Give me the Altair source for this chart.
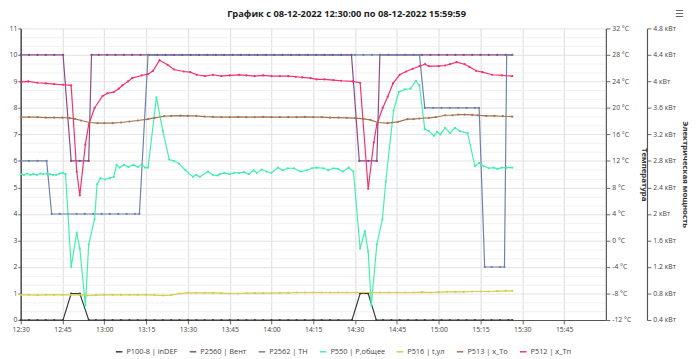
import altair as alt
import pandas as pd

TITLE = ["График с 08-12-2022 12:30:00 по 08-12-2022 15:59:59"]
SERIES = ["P100-8 | inDEF", "P2560 | Вент", "P2562 | TH", "P550 | P,общее",
          "P516 | t,ул", "P513 | x_To", "P512 | x_Tп"]
COLORS = ["#3a3a3a", "#8a4a8a", "#6f80aa", "#3ff0ae", "#d4cd45", "#a27452", "#f7306a"]

# (minutes after 12:30, value)
# state series (left axis)
INDEF = [(0, 0), (3, 0), (6, 0), (9, 0), (12, 0), (15.2, 0), (18.1, 1), (21.2, 1), (24.4, 0),
         (27, 0), (30, 0), (33, 0), (36, 0), (39, 0), (42, 0), (45, 0), (48, 0), (51, 0), (54, 0),
         (57, 0), (60, 0), (63, 0), (66, 0), (69, 0), (72, 0), (75, 0), (78, 0), (81, 0), (84, 0),
         (87, 0), (90, 0), (93, 0), (96, 0), (99, 0), (102, 0), (105, 0), (108, 0), (111, 0),
         (114, 0), (118.9, 0), (121.8, 1), (124.7, 1), (127.6, 0), (130, 0), (133, 0), (136, 0),
         (139, 0), (142, 0), (145, 0), (148, 0), (151, 0), (154, 0), (157, 0), (160, 0), (163, 0),
         (166, 0), (169, 0), (172, 0), (175, 0), (176.4, 0)]
VENT = [(0, 10), (3, 10), (6, 10), (9, 10), (12, 10), (15.2, 10), (18.1, 6), (21.2, 6), (24.4, 6),
        (25.4, 10), (28, 10), (31, 10), (34, 10), (37, 10), (40, 10), (43, 10), (46, 10), (49, 10),
        (52, 10), (55, 10), (58, 10), (61, 10), (64, 10), (67, 10), (70, 10), (73, 10), (76, 10),
        (79, 10), (82, 10), (85, 10), (88, 10), (91, 10), (94, 10), (97, 10), (100, 10), (103, 10),
        (106, 10), (109, 10), (112, 10), (115, 10), (118.7, 10), (121.5, 6), (124.7, 6), (127.8, 6),
        (128.9, 10), (132, 10), (135, 10), (138, 10), (141, 10), (144, 10), (147, 10), (150, 10),
        (153, 10), (156, 10), (159, 10), (162, 10), (165, 10), (168, 10), (171, 10), (174, 10),
        (176.4, 10)]
TH = [(0, 6), (3, 6), (6, 6), (9.3, 6), (11.1, 4), (14, 4), (17, 4), (20, 4), (23, 4), (26, 4),
      (29, 4), (32, 4), (35, 4), (38, 4), (41, 4), (42.6, 4), (45.7, 10), (48, 10), (51, 10),
      (54, 10), (57, 10), (60, 10), (63, 10), (66, 10), (69, 10), (72, 10), (75, 10), (78, 10),
      (81, 10), (84, 10), (87, 10), (90, 10), (93, 10), (96, 10), (99, 10), (102, 10), (105, 10),
      (108, 10), (111, 10), (114, 10), (117, 10), (120, 10), (123, 10), (126, 10), (129, 10),
      (132, 10), (135, 10), (138, 10), (141, 10), (143.1, 10), (145, 8), (148, 8), (151, 8),
      (154, 8), (157, 8), (160, 8), (163, 8), (164.5, 8), (166.5, 2), (169, 2), (172, 2),
      (173.6, 2), (174.4, 10), (176.4, 10)]

# power series, kW
POWER = [(0, 2.60), (1.2, 2.59), (2.3, 2.61), (3.5, 2.59), (4.6, 2.60), (5.8, 2.59), (7, 2.61),
         (8.1, 2.60), (9.3, 2.61), (10.4, 2.60), (11.6, 2.59), (12.7, 2.59), (13.9, 2.61),
         (15.2, 2.62), (16.1, 2.60), (18.1, 1.20), (20.1, 1.72), (21.2, 1.48), (23.2, 0.62),
         (24.4, 1.54), (26.5, 1.92), (27.4, 2.45), (28.6, 2.54), (30.3, 2.52), (32, 2.54),
         (33.4, 2.56), (34.4, 2.74), (35.5, 2.70), (37, 2.74), (38.7, 2.71), (40.4, 2.74),
         (42.1, 2.71), (43.4, 2.75), (44.6, 2.70), (45.7, 2.70), (48.7, 3.76), (51, 3.25),
         (53.3, 2.82), (55, 2.80), (56.8, 2.76), (59.1, 2.66), (61.8, 2.56), (62.9, 2.59),
         (64.3, 2.56), (67.2, 2.64), (69, 2.59), (70.7, 2.58), (71.4, 2.60), (73.1, 2.62),
         (74.9, 2.60), (76.6, 2.62), (78.4, 2.62), (80.1, 2.63), (81.9, 2.60), (83.6, 2.66),
         (84.7, 2.62), (86.5, 2.67), (88.2, 2.64), (90, 2.62), (92.3, 2.70), (94, 2.66),
         (95.8, 2.69), (98.1, 2.69), (100.4, 2.64), (102.7, 2.66), (104.5, 2.69), (106.2, 2.70),
         (108.7, 2.69), (110.4, 2.66), (112.2, 2.69), (113.9, 2.68), (115.6, 2.64), (117.7, 2.70),
         (119.4, 2.64), (121.8, 1.48), (123.5, 1.74), (124.7, 1.43), (125.8, 0.62), (127.8, 1.54),
         (129.8, 1.92), (131.0, 2.49), (133.8, 3.56), (135.7, 3.84), (137.8, 3.88), (139.9, 3.89),
         (141.8, 4.01), (143.1, 3.94), (145, 3.28), (146.5, 3.25), (148.3, 3.18), (149.4, 3.24),
         (150.6, 3.20), (152.3, 3.30), (154.1, 3.22), (155.8, 3.30), (157.6, 3.25), (160.4, 3.22),
         (163, 2.72), (164.5, 2.77), (166.2, 2.72), (168, 2.69), (169.7, 2.70), (171.1, 2.68),
         (172.6, 2.70), (174.4, 2.70), (176.4, 2.70)]

# temperature series, °C
TOUT = [(0, -8.2), (3, -8.2), (6, -8.25), (9, -8.2), (12, -8.2), (15, -8.2), (18, -8.2), (21, -8.2),
        (24, -8.3), (27, -8.25), (30, -8.2), (33, -8.2), (36, -8.2), (39, -8.2), (42, -8.2),
        (45, -8.2), (48, -8.25), (51, -8.3), (54, -8.25), (57, -8.0), (60, -7.9), (63, -7.9),
        (66, -7.9), (69, -7.9), (72, -7.95), (75, -8.0), (78, -8.0), (81, -7.95), (84, -7.95),
        (87, -7.95), (90, -7.95), (93, -7.9), (96, -7.9), (99, -7.85), (102, -7.85), (105, -7.85),
        (108, -7.85), (111, -7.85), (114, -7.85), (117, -7.85), (120, -7.85), (123, -7.85),
        (126, -7.85), (129, -7.85), (132, -7.85), (135, -7.85), (138, -7.85), (141, -7.85),
        (144, -7.8), (147, -7.85), (150, -7.8), (153, -7.75), (156, -7.75), (159, -7.75),
        (162, -7.7), (165, -7.7), (168, -7.7), (171, -7.65), (174, -7.6), (176.4, -7.6)]
TO = [(0, 18.6), (3, 18.6), (6, 18.6), (9, 18.55), (12, 18.55), (15, 18.55), (17.6, 18.45),
      (19.5, 18.35), (21.7, 18.1), (24.7, 17.8), (27.6, 17.7), (30, 17.7), (33, 17.7), (36, 17.8),
      (39, 17.95), (42, 18.1), (45.7, 18.3), (48, 18.5), (51.5, 18.75), (54, 18.8), (57.3, 18.85),
      (60, 18.8), (63, 18.8), (66, 18.7), (69, 18.65), (72, 18.6), (75, 18.6), (78, 18.65),
      (81, 18.6), (84, 18.6), (87, 18.65), (90, 18.6), (93, 18.6), (96, 18.6), (99, 18.6),
      (102, 18.65), (105, 18.6), (108, 18.6), (111, 18.55), (114, 18.55), (117, 18.5),
      (120, 18.45), (123, 18.35), (125.5, 18.2), (128.1, 17.8), (131.7, 17.7), (135.4, 17.9),
      (138.8, 18.3), (141, 18.3), (143, 18.4), (146.5, 18.5), (149, 18.6), (152.3, 18.9),
      (155, 18.9), (157, 19.0), (159.3, 19.0), (162, 18.95), (164, 18.9), (167, 18.8), (170, 18.8),
      (173, 18.75), (176.4, 18.7)]
TP = [(0, 23.9), (2.7, 24.0), (6, 23.8), (9, 23.7), (12, 23.6), (15.2, 23.5), (18.1, 23.4),
      (20.1, 10.4), (21.2, 6.8), (23.2, 14.5), (24.4, 17.5), (26.5, 20.0), (29.4, 21.8),
      (31.1, 22.2), (33.4, 22.4), (35.2, 22.9), (36.5, 23.4), (38.5, 24.0), (40, 24.5),
      (43.4, 24.9), (45.7, 25.1), (47.5, 25.6), (49.8, 27.2), (52.7, 26.5), (55, 25.8),
      (58.5, 25.5), (60.8, 25.4), (63.2, 25.0), (66.1, 24.8), (69, 25.0), (72, 24.8), (75, 24.9),
      (78.4, 25.0), (81, 24.9), (84, 24.8), (87, 24.9), (90, 24.8), (93, 24.8), (96, 24.8),
      (98.7, 24.7), (101, 24.6), (104, 24.5), (106.2, 24.3), (109, 24.3), (112.2, 24.2),
      (115, 24.1), (119.1, 24.0), (121.8, 23.8), (124.7, 7.8), (126.7, 14.8), (127.8, 17.5),
      (129.9, 20.0), (131.7, 21.7), (133.6, 23.7), (136, 25.0), (138.3, 25.5), (140.7, 25.9),
      (143.1, 26.3), (145.1, 26.6), (146.5, 26.3), (150, 26.3), (152.3, 26.4), (154.1, 26.6),
      (156.4, 26.9), (159.3, 26.6), (161, 26.2), (163.4, 25.6), (165.7, 25.4), (169.2, 25.0),
      (172.7, 24.9), (176.4, 24.8)]

X_TICKS = ["12:30", "12:45", "13:00", "13:15", "13:30", "13:45", "14:00", "14:15",
           "14:30", "14:45", "15:00", "15:15", "15:30", "15:45"]
LEFT_GRID = [0, 1/3, 2/3, 1, 4/3, 5/3, 2, 7/3, 8/3, 3, 10/3, 11/3, 4, 13/3, 14/3, 5, 16/3, 17/3,
             6, 19/3, 20/3, 7, 22/3, 23/3, 8, 25/3, 26/3, 9, 28/3, 29/3, 10, 31/3, 32/3, 11]
TEMP_TICKS = [-12, -8, -4, 0, 4, 8, 12, 16, 20, 24, 28, 32]
POWER_TICKS = [0.4, 0.8, 1.2, 1.6, 2.0, 2.4, 2.8, 3.2, 3.6, 4.0, 4.4, 4.8]
MENU = ["☰"]

BASE = pd.Timestamp("2022-12-08 12:30:00")
W, H = 598, 298


def frame(pairs, name):
    return pd.DataFrame({
        "time": [BASE + pd.Timedelta(minutes=t) for t, _ in pairs],
        "value": [v for _, v in pairs],
        "series": name,
    })


def hm(s):
    h, m = s.split(":")
    return alt.DateTime(year=2022, month=12, date=8, hours=int(h), minutes=int(m))


df_left = pd.concat([frame(INDEF, SERIES[0]), frame(VENT, SERIES[1]), frame(TH, SERIES[2])])
df_power = frame(POWER, SERIES[3])
df_temp = pd.concat([frame(TOUT, SERIES[4]), frame(TO, SERIES[5]), frame(TP, SERIES[6])])

FONT = "Open Sans"
IS_INT = "abs(datum.value - round(datum.value)) < 0.01"

x_enc = alt.X(
    "time:T",
    scale=alt.Scale(domain=[hm("12:30"), hm("16:00")]),
    axis=alt.Axis(values=[hm(s) for s in X_TICKS], format="%H:%M", title=None,
                  labelFontSize=7, labelColor="#444", tickSize=4, tickColor="#666",
                  domainColor="#555", domainWidth=1.2, labelPadding=2,
                  grid=True, gridColor="#e2e2e2", gridWidth=1.2, labelFlush=False),
)

color_enc = alt.Color(
    "series:N",
    scale=alt.Scale(domain=SERIES, range=COLORS),
    sort=SERIES,
    legend=alt.Legend(title=None, orient="none", direction="horizontal",
                      legendX=96, legendY=326, symbolType="stroke",
                      symbolStrokeWidth=1.5, symbolSize=45, labelFontSize=7.5,
                      labelColor="#444", columnPadding=8.5, labelOffset=3),
)

line_mark = dict(strokeWidth=1.2, point=alt.OverlayMarkDef(size=5, filled=True))

left = alt.Chart(df_left).mark_line(**line_mark).encode(
    x=x_enc,
    y=alt.Y("value:Q",
            scale=alt.Scale(domain=[0, 11], nice=False, zero=False),
            axis=alt.Axis(orient="left", values=LEFT_GRID, title=None, labelFontSize=7,
                          labelExpr=f"{IS_INT} ? format(datum.value, 'd') : ''",
                          labelColor="#444", tickSize=3, tickColor="#666", labelPadding=1,
                          tickOpacity={"condition": {"test": IS_INT, "value": 1}, "value": 0},
                          domainColor="#555", domainWidth=1.6, grid=True,
                          gridColor={"condition": {"test": IS_INT, "value": "#e2e2e2"},
                                     "value": "#f1f1f1"})),
    color=color_enc,
    detail="series:N",
)

power = alt.Chart(df_power).mark_line(**line_mark).encode(
    x=x_enc,
    y=alt.Y("value:Q",
            scale=alt.Scale(domain=[0.4, 4.8], nice=False, zero=False),
            axis=alt.Axis(orient="right", offset=42, values=POWER_TICKS,
                          labelExpr="datum.value + ' кВт'",
                          title="Электрическая мощность", titleFontSize=8,
                          titleFontWeight="bold", titleColor="#333", titlePadding=5,
                          labelFontSize=7, labelColor="#444", tickSize=4,
                          tickColor="#666", domainColor="#555", domainWidth=1.2,
                          labelPadding=2, grid=False)),
    color=color_enc,
)

temp = alt.Chart(df_temp).mark_line(**line_mark).encode(
    x=x_enc,
    y=alt.Y("value:Q",
            scale=alt.Scale(domain=[-12, 32], nice=False, zero=False),
            axis=alt.Axis(orient="right", values=TEMP_TICKS,
                          labelExpr="datum.value + ' °C'",
                          title="Температура", titleFontSize=8,
                          titleFontWeight="bold", titleColor="#333", titlePadding=9,
                          labelFontSize=7, labelColor="#444", tickSize=4,
                          tickColor="#666", domainColor="#555", domainWidth=1.2,
                          labelPadding=2, grid=False)),
    color=color_enc,
    detail="series:N",
)

title = alt.Chart(pd.DataFrame({"t": TITLE})).mark_text(
    fontSize=9.5, fontWeight="bold", color="#222", align="center", baseline="middle", font=FONT
).encode(text="t:N", x=alt.value(333), y=alt.value(-14.5))

menu = alt.Chart(pd.DataFrame({"icon": MENU})).mark_text(
    fontSize=10, color="#666", align="center", baseline="middle", font="DejaVu Sans"
).encode(text="icon:N", x=alt.value(W + 75), y=alt.value(-14.5))

chart = (
    alt.layer(left, power, temp, title, menu)
    .resolve_scale(y="independent")
    .properties(
        width=W,
        height=H,
        padding={"left": 0, "top": -3, "right": 3, "bottom": 0},
    )
    .configure(font=FONT)
    .configure_view(stroke=None)
)

chart.save("out.html", embed_options={"renderer": "svg", "actions": False})
